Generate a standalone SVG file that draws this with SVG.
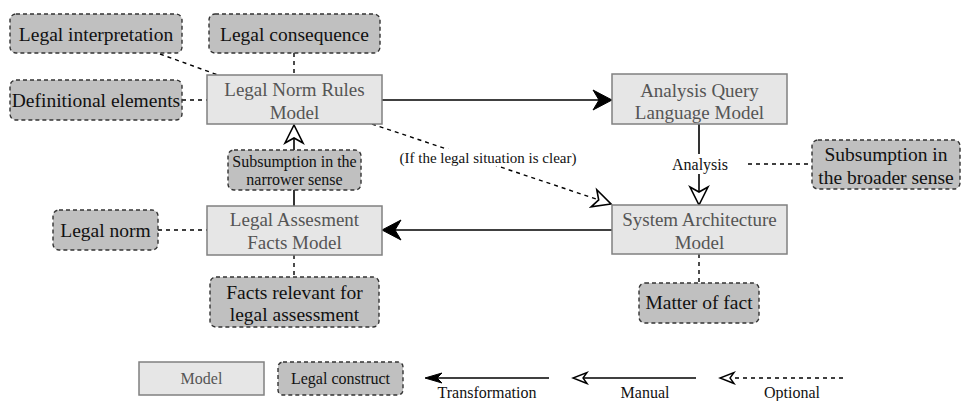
<svg xmlns="http://www.w3.org/2000/svg" width="961" height="401" viewBox="0 0 961 401" font-family="'Liberation Serif', 'Times New Roman', serif">
<style>
text{font-family:'Liberation Serif','Times New Roman',serif;text-anchor:middle}
.model rect{fill:#e6e6e6;stroke:#808080;stroke-width:1.5}
.model text{fill:#555;font-size:19px}
.lc rect{fill:#c0c0c0;stroke:#333;stroke-width:1.4;stroke-dasharray:4 3}
.lc text{fill:#111;font-size:19.5px}
.solid{fill:none;stroke:#000;stroke-width:1.6}
.dash{fill:none;stroke:#000;stroke-width:1.4;stroke-dasharray:4 4}
.lbl{font-size:16px;fill:#111}
</style>
<defs>
<marker id="fill" markerUnits="userSpaceOnUse" viewBox="-2 -12 24 24" markerWidth="24" markerHeight="24" refX="6" refY="0" orient="auto"><path d="M0,-10 L19,0 L0,10 L6,0 Z" fill="#000" stroke="#000" stroke-width="1"/></marker>
<marker id="hollow" markerUnits="userSpaceOnUse" viewBox="-2 -12 24 24" markerWidth="24" markerHeight="24" refX="5" refY="0" orient="auto"><path d="M0,-9 L18,0 L0,9 L5,0 Z" fill="#fff" stroke="#000" stroke-width="1.6" stroke-linejoin="miter"/></marker>
<marker id="fillS" markerUnits="userSpaceOnUse" viewBox="-2 -8 22 16" markerWidth="22" markerHeight="16" refX="5" refY="0" orient="auto"><path d="M0,-5 L17,0 L0,5 L5,0 Z" fill="#000" stroke="#000" stroke-width="1"/></marker>
<marker id="hollowS" markerUnits="userSpaceOnUse" viewBox="-2 -8 20 16" markerWidth="20" markerHeight="16" refX="4" refY="0" orient="auto"><path d="M0,-5.5 L14,0 L0,5.5 L4,0 Z" fill="#fff" stroke="#000" stroke-width="1.4"/></marker>
</defs>

<g id="connectors">
<path class="dash" d="M160,54 L218,75"/>
<path class="dash" d="M294,53 L294,75"/>
<path class="dash" d="M182,100 L207,100"/>
<path class="solid" d="M382,100 L599,100" marker-end="url(#fill)"/>
<path class="solid" d="M612,230 L395,230" marker-end="url(#fill)"/>
<path class="solid" d="M294,206 L294,138" marker-end="url(#hollow)"/>
<path class="solid" d="M699,124 L699,192" marker-end="url(#hollow)"/>
<path class="dash" d="M372,124 L598.7,199.9" marker-end="url(#hollow)"/>
<path class="dash" d="M158,230 L207,230"/>
<path class="dash" d="M294,255 L294,277"/>
<path class="dash" d="M699,254 L699,283"/>
<path class="dash" d="M748,164 L812,164"/>
<rect x="402" y="149" width="173" height="17" fill="#fff"/>
<text class="lbl" x="488" y="163" style="font-size:15px">(If the legal situation is clear)</text>
<rect x="668" y="154" width="62" height="20" fill="#fff"/>
<text class="lbl" x="700" y="169.5">Analysis</text>
</g>

<g id="legal-interpretation" class="lc"><rect x="10" y="14" width="172" height="39" rx="6"/><text x="96" y="41">Legal interpretation</text></g>
<g id="legal-consequence" class="lc"><rect x="209" y="14" width="171" height="39" rx="6"/><text x="294.5" y="41">Legal consequence</text></g>
<g id="definitional-elements" class="lc"><rect x="10" y="80" width="172" height="40" rx="6"/><text x="96" y="107">Definitional elements</text></g>
<g id="legal-norm-rules-model" class="model"><rect x="207" y="75" width="175" height="49"/><text x="294.5" y="95.5">Legal Norm Rules</text><text x="294.5" y="118.5">Model</text></g>
<g id="analysis-query-language-model" class="model"><rect x="612" y="74" width="175" height="50"/><text x="699.5" y="96.5">Analysis Query</text><text x="699.5" y="118.5">Language Model</text></g>
<g id="subsumption-narrower" class="lc"><rect x="228" y="150" width="133" height="40" rx="6"/><text x="294.5" y="166.5" style="font-size:16px">Subsumption in the</text><text x="294.5" y="185" style="font-size:16px">narrower sense</text></g>
<g id="subsumption-broader" class="lc"><rect x="812" y="140" width="148" height="49" rx="6"/><text x="886" y="160.5">Subsumption in</text><text x="886" y="183.5">the broader sense</text></g>
<g id="legal-norm" class="lc"><rect x="53" y="210" width="105" height="40" rx="6"/><text x="105.5" y="237">Legal norm</text></g>
<g id="legal-assesment-facts-model" class="model"><rect x="207" y="206" width="175" height="49"/><text x="294.5" y="226">Legal Assesment</text><text x="294.5" y="249">Facts Model</text></g>
<g id="system-architecture-model" class="model"><rect x="612" y="205" width="175" height="49"/><text x="699.5" y="225.5">System Architecture</text><text x="699.5" y="248.5">Model</text></g>
<g id="facts-relevant" class="lc"><rect x="210" y="277" width="169" height="50" rx="6"/><text x="294.5" y="298.5">Facts relevant for</text><text x="294.5" y="321">legal assessment</text></g>
<g id="matter-of-fact" class="lc"><rect x="639" y="283" width="120" height="40" rx="6"/><text x="699" y="309">Matter of fact</text></g>

<g id="legend">
<g id="legend-model" class="model"><rect x="139" y="362" width="125" height="33"/><text x="201.5" y="383.5" style="font-size:16px">Model</text></g>
<g id="legend-construct" class="lc"><rect x="278" y="362" width="125" height="33" rx="5"/><text x="340.5" y="383.5" style="font-size:16px">Legal construct</text></g>
<path class="solid" d="M549,378 L437,378" marker-end="url(#fillS)"/>
<path class="solid" d="M696,378 L583,378" marker-end="url(#hollowS)"/>
<path class="dash" d="M843,378 L730,378" marker-end="url(#hollowS)"/>
<text class="lbl" x="487" y="398">Transformation</text>
<text class="lbl" x="645" y="398">Manual</text>
<text class="lbl" x="792" y="398">Optional</text>
</g>
</svg>
